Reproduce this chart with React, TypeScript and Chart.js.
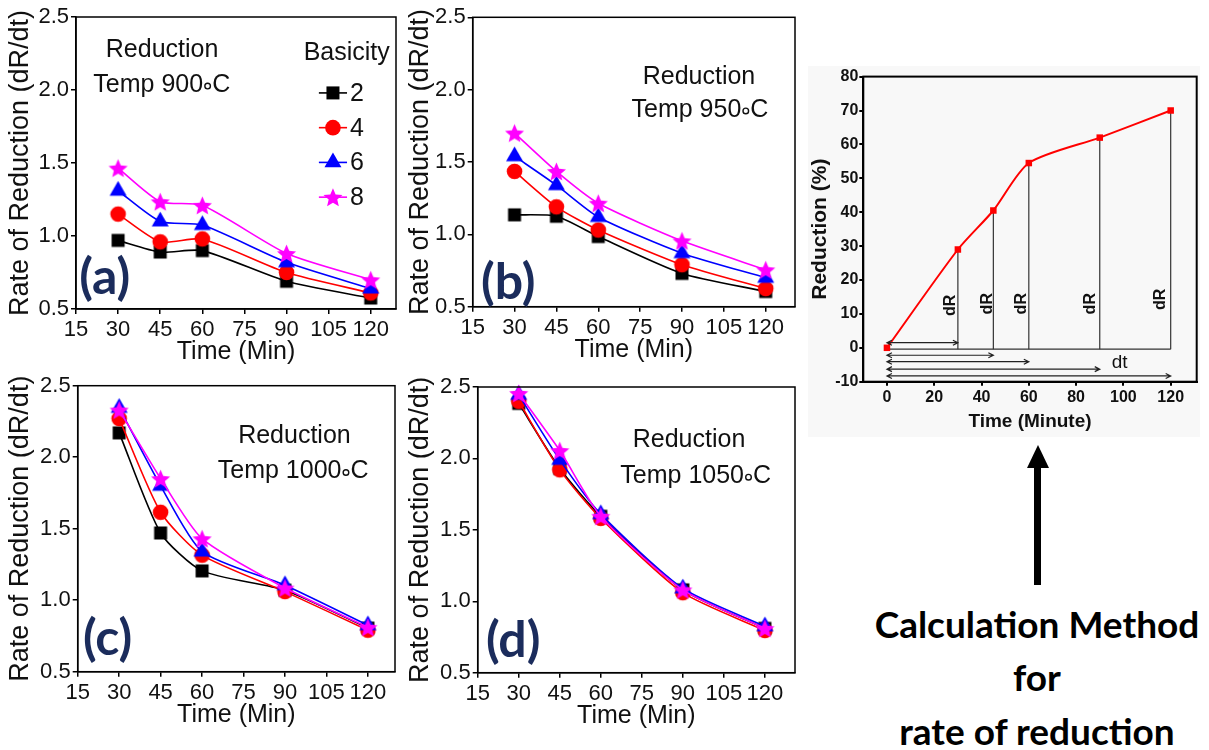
import React, { useEffect, useRef } from 'react';
import { Chart, registerables } from 'chart.js';

Chart.register(...registerables);

const SANS = '"Liberation Sans", Arial, sans-serif';
const LETTER_FONT = 'Lato, "Open Sans", sans-serif';

// ---------- data: rate of reduction panels ----------
const timeMin = [30, 45, 60, 90, 120];
const timeTicks = [15, 30, 45, 60, 75, 90, 105, 120];
const rateTicks = [0.5, 1.0, 1.5, 2.0, 2.5];
const basicityLevels = ['2', '4', '6', '8'];

const rate900B2 = [0.97, 0.89, 0.9, 0.69, 0.575];
const rate900B4 = [1.15, 0.96, 0.98, 0.75, 0.61];
const rate900B6 = [1.31, 1.1, 1.075, 0.82, 0.64];
const rate900B8 = [1.465, 1.235, 1.21, 0.88, 0.7];

const rate950B2 = [1.135, 1.125, 0.985, 0.73, 0.605];
const rate950B4 = [1.435, 1.19, 1.03, 0.79, 0.625];
const rate950B6 = [1.54, 1.34, 1.12, 0.87, 0.7];
const rate950B8 = [1.7, 1.435, 1.215, 0.955, 0.755];

const rate1000B2 = [2.17, 1.47, 1.205, 1.07, 0.805];
const rate1000B4 = [2.27, 1.615, 1.315, 1.06, 0.79];
const rate1000B6 = [2.345, 1.8, 1.34, 1.105, 0.825];
const rate1000B8 = [2.33, 1.85, 1.43, 1.085, 0.81];

const rate1050B2 = [2.385, 1.93, 1.595, 1.08, 0.81];
const rate1050B4 = [2.4, 1.92, 1.58, 1.06, 0.795];
const rate1050B6 = [2.445, 1.99, 1.61, 1.09, 0.825];
const rate1050B8 = [2.455, 2.055, 1.595, 1.08, 0.81];

// ---------- data: calculation method panel ----------
const calcTime = [0, 30, 45, 60, 90, 120];
const calcReduction = [0, 29, 40.5, 54.5, 62, 70];
const dRTime = [30, 45, 60, 90, 120];
const dRTop = [29, 40.5, 54, 62, 70];
const dRLabelX = [27, 42.5, 57, 86, 115.7];
const dRLabelY = [12.5, 13, 13, 13, 14.3];
const dtArrowY = [1.5, -2.2, -4.1, -6.3, -8.3];
const dtBaseline = [-0.4];
const dtLabelPos = [98.4, -4.4];
const calcTimeTicks = [0, 20, 40, 60, 80, 100, 120];
const calcReductionTicks = [-10, 0, 10, 20, 30, 40, 50, 60, 70, 80];

// ---------- styles ----------
const seriesColors = ['#000000', '#ff0000', '#0000ff', '#ff00ff'];
const markerKinds = ['rect', 'circle', 'triangle', 'star'];
const MARKER_R: Record<string, number> = { rect: 6.5, circle: 7.8, triangle: 9.8, star: 10 };

type Area = { l: number; t: number; r: number; b: number };
interface PanelSpec {
  temp: string;
  letter: string;
  series: number[][];
  box: { x: number; y: number; w: number; h: number };
  area: Area;
  xMax: number;
  noteX1: number;
  noteY1: number;
  noteX2: number;
  noteY2: number;
  letterX: number;
  letterY: number;
  legend: boolean;
}

const panels: PanelSpec[] = [
  {
    temp: '900', letter: '(a)', series: [rate900B2, rate900B4, rate900B6, rate900B8],
    box: { x: 0, y: 0, w: 400, h: 370 }, area: { l: 76, t: 17, r: 396, b: 309 }, xMax: 129,
    noteX1: 0.269, noteY1: 0.113, noteX2: 0.268, noteY2: 0.233, letterX: 0.09, letterY: 0.894, legend: true,
  },
  {
    temp: '950', letter: '(b)', series: [rate950B2, rate950B4, rate950B6, rate950B8],
    box: { x: 400, y: 0, w: 400, h: 370 }, area: { l: 72.7, t: 17.3, r: 395, b: 306.7 }, xMax: 130.5,
    noteX1: 0.702, noteY1: 0.205, noteX2: 0.705, noteY2: 0.32, letterX: 0.11, letterY: 0.918, legend: false,
  },
  {
    temp: '1000', letter: '(c)', series: [rate1000B2, rate1000B4, rate1000B6, rate1000B8],
    box: { x: 0, y: 370, w: 400, h: 380 }, area: { l: 77.7, t: 15.7, r: 395, b: 301.7 }, xMax: 129.8,
    noteX1: 0.683, noteY1: 0.178, noteX2: 0.679, noteY2: 0.3, letterX: 0.094, letterY: 0.886, legend: false,
  },
  {
    temp: '1050', letter: '(d)', series: [rate1050B2, rate1050B4, rate1050B6, rate1050B8],
    box: { x: 400, y: 370, w: 400, h: 380 }, area: { l: 77.7, t: 17, r: 395, b: 302.7 }, xMax: 131,
    noteX1: 0.666, noteY1: 0.186, noteX2: 0.687, noteY2: 0.312, letterX: 0.112, letterY: 0.888, legend: false,
  },
];

function traceMarker(ctx: CanvasRenderingContext2D, kind: string, x: number, y: number) {
  ctx.beginPath();
  if (kind === 'rect') {
    const s = MARKER_R.rect;
    ctx.rect(x - s, y - s, 2 * s, 2 * s);
  } else if (kind === 'circle') {
    ctx.arc(x, y, MARKER_R.circle, 0, Math.PI * 2);
  } else if (kind === 'triangle') {
    const r = MARKER_R.triangle;
    ctx.moveTo(x, y - r);
    ctx.lineTo(x + (r * Math.sqrt(3)) / 2, y + r / 2);
    ctx.lineTo(x - (r * Math.sqrt(3)) / 2, y + r / 2);
    ctx.closePath();
  } else {
    const R = MARKER_R.star;
    const ri = R * 0.45;
    for (let k = 0; k < 10; k++) {
      const ang = -Math.PI / 2 + (k * Math.PI) / 5;
      const rr = k % 2 === 0 ? R : ri;
      const px = x + rr * Math.cos(ang);
      const py = y + rr * Math.sin(ang) + 1;
      if (k === 0) ctx.moveTo(px, py);
      else ctx.lineTo(px, py);
    }
    ctx.closePath();
  }
}

function makeMarker(kind: string, color: string): HTMLCanvasElement {
  const c = document.createElement('canvas');
  const size = Math.ceil(2 * MARKER_R[kind] + 3);
  c.width = size;
  c.height = size;
  const ctx = c.getContext('2d')!;
  ctx.fillStyle = color;
  traceMarker(ctx, kind, size / 2, size / 2);
  ctx.fill();
  return c;
}

// "Temp 900∘C" with a small ring drawn between the number and C
function drawTempText(ctx: CanvasRenderingContext2D, temp: string, cx: number, cy: number) {
  const main = `Temp ${temp}`;
  const wMain = ctx.measureText(main).width;
  const wC = ctx.measureText('C').width;
  const ringW = 9;
  const total = wMain + ringW + wC;
  const x0 = cx - total / 2;
  ctx.textAlign = 'left';
  ctx.fillText(main, x0, cy);
  ctx.fillText('C', x0 + wMain + ringW, cy);
  ctx.save();
  ctx.strokeStyle = ctx.fillStyle as string;
  ctx.lineWidth = 1.4;
  ctx.beginPath();
  ctx.arc(x0 + wMain + ringW / 2, cy + 1, 2.8, 0, Math.PI * 2);
  ctx.stroke();
  ctx.restore();
  ctx.textAlign = 'center';
}

function panelDeco(p: PanelSpec) {
  return {
    id: 'panelDeco',
    afterDraw(chart: any) {
      const { ctx, chartArea: a } = chart;
      const w = a.right - a.left;
      const h = a.bottom - a.top;
      const fx = (f: number) => a.left + f * w;
      const fy = (f: number) => a.top + f * h;
      ctx.save();
      ctx.strokeStyle = '#000';
      ctx.lineWidth = 1.5;
      ctx.strokeRect(a.left, a.top, w, h);

      ctx.fillStyle = '#111';
      ctx.textAlign = 'center';
      ctx.textBaseline = 'middle';
      ctx.font = `25px ${SANS}`;
      ctx.fillText('Reduction', fx(p.noteX1), fy(p.noteY1));
      drawTempText(ctx, p.temp, fx(p.noteX2), fy(p.noteY2));

      ctx.fillStyle = '#1b2c5c';
      ctx.font = `700 50px ${LETTER_FONT}`;
      ctx.fillText(p.letter, fx(p.letterX), fy(p.letterY));

      if (p.legend) {
        ctx.fillStyle = '#111';
        ctx.font = `25px ${SANS}`;
        ctx.fillText('Basicity', fx(0.846), fy(0.123));
        basicityLevels.forEach((lab, i) => {
          const y = fy(0.26 + i * 0.119);
          ctx.strokeStyle = seriesColors[i];
          ctx.lineWidth = 1.6;
          ctx.beginPath();
          ctx.moveTo(fx(0.759), y);
          ctx.lineTo(fx(0.847), y);
          ctx.stroke();
          ctx.fillStyle = seriesColors[i];
          traceMarker(ctx, markerKinds[i], fx(0.803), y);
          ctx.fill();
          ctx.fillStyle = '#111';
          ctx.textAlign = 'left';
          ctx.font = `25px ${SANS}`;
          ctx.fillText(lab, fx(0.856), y + 1);
          ctx.textAlign = 'center';
        });
      }
      ctx.restore();
    },
  };
}

function panelConfig(p: PanelSpec): any {
  const markers = markerKinds.map((k, i) => makeMarker(k, seriesColors[i]));
  const datasets = p.series.map((vals, i) => ({
    label: basicityLevels[i],
    data: timeMin.map((t, j) => ({ x: t, y: vals[j] })),
    borderColor: seriesColors[i],
    backgroundColor: seriesColors[i],
    borderWidth: 1.6,
    pointStyle: markers[i],
    pointRadius: MARKER_R[markerKinds[i]],
    tension: 0.22,
    clip: false,
    order: 4 - i,
  }));
  const xAxisH = 61;
  return {
    type: 'line',
    data: { datasets },
    options: {
      animation: false,
      responsive: false,
      events: [],
      layout: {
        autoPadding: false,
        padding: { left: 0, top: p.area.t, right: p.box.w - p.area.r, bottom: p.box.h - p.area.b - xAxisH },
      },
      plugins: { legend: { display: false }, tooltip: { enabled: false } },
      scales: {
        x: {
          type: 'linear',
          min: 15,
          max: p.xMax,
          afterBuildTicks: (s: any) => {
            s.ticks = timeTicks.map((v) => ({ value: v }));
          },
          afterFit: (s: any) => {
            s.height = xAxisH;
          },
          ticks: {
            color: '#111', font: { family: SANS, size: 22 }, padding: 3, maxRotation: 0, autoSkip: false,
            callback: (v: any) => String(v),
          },
          grid: { drawOnChartArea: false, drawTicks: true, tickLength: 5, color: '#000', lineWidth: 1.5 },
          border: { color: '#000', width: 1.5 },
          title: {
            display: true, text: 'Time (Min)', color: '#111',
            font: { family: SANS, size: 25 }, padding: { top: 0, bottom: 3 },
          },
        },
        y: {
          type: 'linear',
          min: 0.5,
          max: 2.5,
          afterBuildTicks: (s: any) => {
            s.ticks = rateTicks.map((v) => ({ value: v }));
          },
          afterFit: (s: any) => {
            s.width = p.area.l;
          },
          ticks: {
            color: '#111', font: { family: SANS, size: 22 }, padding: 2,
            callback: (v: any) => Number(v).toFixed(1),
          },
          grid: { drawOnChartArea: false, drawTicks: true, tickLength: 5, color: '#000', lineWidth: 1.5 },
          border: { color: '#000', width: 1.5 },
          title: {
            display: true, text: 'Rate of Reduction (dR/dt)', color: '#111',
            font: { family: SANS, size: 27 }, padding: { top: 4, bottom: 0 },
          },
        },
      },
    },
    plugins: [panelDeco(p)],
  };
}

const calcBox = { x: 808, y: 66, w: 392, h: 371 };
const calcArea: Area = { l: 55.3, t: 9, r: 388.7, b: 315.7 };

const calcDeco = {
  id: 'calcDeco',
  afterDraw(chart: any) {
    const { ctx, chartArea: a, scales } = chart;
    const xs = scales.x;
    const ys = scales.y;
    ctx.save();
    ctx.strokeStyle = '#000';
    ctx.lineWidth = 2;
    ctx.strokeRect(a.left, a.top, a.right - a.left, a.bottom - a.top);

    // dt arrows
    ctx.strokeStyle = '#222';
    ctx.lineWidth = 1.2;
    dtArrowY.forEach((yv, i) => {
      const x0 = xs.getPixelForValue(calcTime[0]);
      const x1 = xs.getPixelForValue(dRTime[i]);
      const y = ys.getPixelForValue(yv);
      ctx.beginPath();
      ctx.moveTo(x0, y);
      ctx.lineTo(x1, y);
      ctx.moveTo(x1 - 5, y - 2.5);
      ctx.lineTo(x1, y);
      ctx.lineTo(x1 - 5, y + 2.5);
      ctx.moveTo(x0 + 5, y - 2.5);
      ctx.lineTo(x0, y);
      ctx.lineTo(x0 + 5, y + 2.5);
      ctx.stroke();
    });

    // dR labels
    ctx.fillStyle = '#111';
    ctx.font = `700 16px ${SANS}`;
    ctx.textAlign = 'center';
    ctx.textBaseline = 'middle';
    dRLabelX.forEach((xv, i) => {
      ctx.save();
      ctx.translate(xs.getPixelForValue(xv), ys.getPixelForValue(dRLabelY[i]));
      ctx.rotate(-Math.PI / 2);
      ctx.fillText('dR', 0, 0);
      ctx.restore();
    });

    ctx.font = `19px ${SANS}`;
    ctx.fillText('dt', xs.getPixelForValue(dtLabelPos[0]), ys.getPixelForValue(dtLabelPos[1]));
    ctx.restore();
  },
};

function calcConfig(): any {
  const verticals: { x: number; y: number | null }[] = [];
  dRTime.forEach((t, i) => {
    verticals.push({ x: t, y: dtBaseline[0] }, { x: t, y: dRTop[i] }, { x: t, y: null });
  });
  const boldTick = { family: SANS, size: 16, weight: 'bold' as const };
  return {
    type: 'line',
    data: {
      datasets: [
        {
          data: calcTime.map((t, i) => ({ x: t, y: calcReduction[i] })),
          borderColor: '#ff0000', backgroundColor: '#ff0000', borderWidth: 2,
          pointStyle: 'rect', pointRadius: 4.6, pointBorderWidth: 0,
          tension: 0.25, clip: false, order: 0,
        },
        {
          data: verticals, borderColor: '#333', borderWidth: 1.2, pointRadius: 0,
          spanGaps: false, tension: 0, order: 1,
        },
        {
          data: [
            { x: calcTime[0], y: dtBaseline[0] },
            { x: calcTime[calcTime.length - 1], y: dtBaseline[0] },
          ],
          borderColor: '#333', borderWidth: 1.2, pointRadius: 0, tension: 0, order: 2,
        },
      ],
    },
    options: {
      animation: false,
      responsive: false,
      events: [],
      layout: {
        autoPadding: false,
        padding: { left: 0, top: calcArea.t, right: calcBox.w - calcArea.r, bottom: 0 },
      },
      plugins: { legend: { display: false }, tooltip: { enabled: false } },
      scales: {
        x: {
          type: 'linear', min: -10, max: 131,
          afterBuildTicks: (s: any) => {
            s.ticks = calcTimeTicks.map((v) => ({ value: v }));
          },
          afterFit: (s: any) => {
            s.height = calcBox.h - calcArea.b;
          },
          ticks: { color: '#111', font: boldTick, padding: 2, maxRotation: 0, autoSkip: false },
          grid: { drawOnChartArea: false, drawTicks: true, tickLength: 4, color: '#000', lineWidth: 2 },
          border: { color: '#000', width: 2 },
          title: {
            display: true, text: 'Time (Minute)', color: '#111',
            font: { family: SANS, size: 19, weight: 'bold' }, padding: { top: 0, bottom: 4 },
          },
        },
        y: {
          type: 'linear', min: -10, max: 80,
          afterBuildTicks: (s: any) => {
            s.ticks = calcReductionTicks.map((v) => ({ value: v }));
          },
          afterFit: (s: any) => {
            s.width = calcArea.l;
          },
          ticks: { color: '#111', font: boldTick, padding: 1 },
          grid: { drawOnChartArea: false, drawTicks: true, tickLength: 4, color: '#000', lineWidth: 2 },
          border: { color: '#000', width: 2 },
          title: {
            display: true, text: 'Reduction (%)', color: '#111',
            font: { family: SANS, size: 21, weight: 'bold' }, padding: { top: 0, bottom: 0 },
          },
        },
      },
    },
    plugins: [calcDeco],
  };
}

function ChartBox(props: { x: number; y: number; w: number; h: number; bg?: string; make: () => any }) {
  const ref = useRef<HTMLCanvasElement>(null);
  useEffect(() => {
    const chart = new Chart(ref.current as HTMLCanvasElement, props.make());
    return () => chart.destroy();
  }, []);
  return (
    <div
      style={{
        position: 'absolute', left: props.x, top: props.y, width: props.w, height: props.h,
        background: props.bg || 'transparent',
      }}
    >
      <canvas ref={ref} width={props.w} height={props.h} style={{ display: 'block' }} />
    </div>
  );
}

export default function App() {
  return (
    <div style={{ position: 'fixed', left: 0, top: 0, width: 1209, height: 750, background: '#fff', overflow: 'hidden' }}>
      {panels.map((p) => (
        <ChartBox key={p.letter} x={p.box.x} y={p.box.y} w={p.box.w} h={p.box.h} make={() => panelConfig(p)} />
      ))}
      <ChartBox x={calcBox.x} y={calcBox.y} w={calcBox.w} h={calcBox.h} bg="#f8f8f8" make={calcConfig} />
      <div style={{ position: 'absolute', left: 1034.2, top: 466, width: 7, height: 119, background: '#000' }} />
      <div
        style={{
          position: 'absolute', left: 1026.7, top: 445, width: 0, height: 0,
          borderLeft: '11px solid transparent', borderRight: '11px solid transparent', borderBottom: '23px solid #000',
        }}
      />
      <div
        style={{
          position: 'absolute', left: 837, width: 400, top: 596.5, textAlign: 'center',
          fontFamily: LETTER_FONT, fontWeight: 700, fontSize: 37, lineHeight: '53.5px', color: '#000',
        }}
      >
        Calculation Method
        <br />
        for
        <br />
        rate of reduction
      </div>
    </div>
  );
}
